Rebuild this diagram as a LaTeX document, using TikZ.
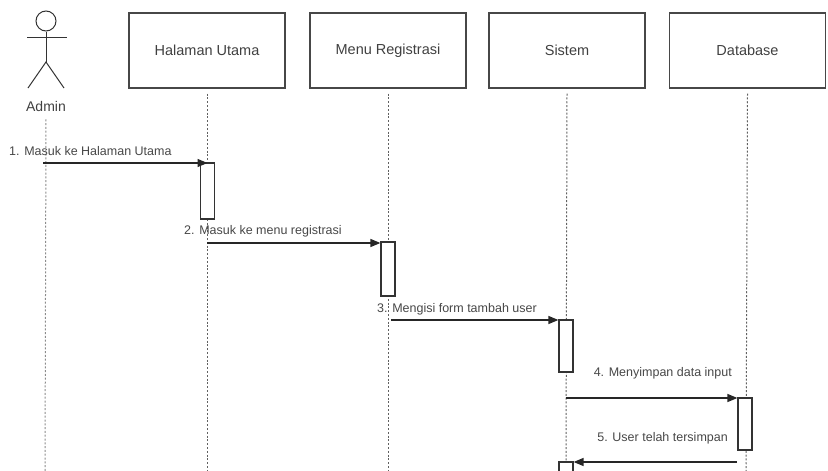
\documentclass[tikz,border=0pt]{standalone}
\usepackage{fontspec}
\setmainfont{Liberation Sans}
\usetikzlibrary{arrows.meta}
\begin{document}
\begin{tikzpicture}[x=1pt,y=-1pt,
 obj/.style={draw=black!72,line width=1.3pt,minimum width=156pt,minimum height=75pt,inner sep=0pt,font=\fontsize{14.5}{17}\selectfont,text=black!75},
 life/.style={draw=black!62,dash pattern=on 2pt off 1.8pt,line width=1pt},
 act/.style={draw=black!80,line width=1.2pt,fill=white,minimum width=14pt,inner sep=0pt},
 msg/.style={-{Triangle[length=10pt,width=8pt]},line width=1.3pt,draw=black!85},
 lbl/.style={font=\fontsize{12.5}{14}\selectfont,text=black!72,inner sep=0pt},
 stick/.style={draw=black!80,line width=1pt}]
\useasboundingbox (0,0) rectangle (828,471);
% actor
\node[circle,stick,minimum size=20pt,inner sep=0pt] (head) at (46,21) {};
\coordinate (hip) at (46,62);
\coordinate (armL) at (27,37);
\coordinate (armR) at (67,37);
\coordinate (legL) at (28,88);
\coordinate (legR) at (64,88);
\draw[stick] (head.south) -- (hip);
\draw[stick] (armL) -- (armR);
\draw[stick] (legL) -- (hip) -- (legR);
\node[font=\fontsize{14}{16}\selectfont,text=black!75,inner sep=0pt] (admin) at (46,106) {Admin};
% objects
\node[obj] (hu) at (207,50.5) {Halaman Utama};
\node[obj] (mr) at (388,50.5) {Menu Registrasi};
\node[obj] (si) at (567,50.5) {Sistem};
\node[obj] (db) at (747.5,50.5) {Database};
% lifeline ends
\coordinate (adE) at (45,471);
\coordinate (huE) at (207,471);
\coordinate (mrE) at (388,471);
\coordinate (siE) at (566,471);
\coordinate (dbE) at (746,471);
\draw[life,draw=black!45] ([yshift=-8pt]admin.south) -- (adE);
\draw[life] ([yshift=-5pt]hu.south) -- (huE);
\draw[life] ([yshift=-5pt]mr.south) -- (mrE);
\draw[life] ([yshift=-5pt]si.south) -- (siE);
\draw[life] ([yshift=-5pt]db.south) -- (dbE);
% activations
\node[act,minimum height=56pt] (a1) at (207.5,191) {};
\node[act,minimum height=54pt] (a2) at (388,269) {};
\node[act,minimum height=52pt] (a3) at (566,346) {};
\node[act,minimum height=52pt] (a4) at (745,424) {};
\node[act,minimum height=20pt] (a5) at (566,472) {};
% message start points
\coordinate (s1) at (43,163);
\coordinate (s2) at (207,243);
\coordinate (s3) at (391,320);
\coordinate (s4) at (566,398);
\coordinate (s5) at (737,462);
\draw[msg] (s1) -- (s1 -| a1.north);
\draw[msg] (s2) -- (s2 -| a2.west);
\draw[msg] (s3) -- (s3 -| a3.west);
\draw[msg] (s4) -- (s4 -| a4.west);
\draw[msg] (s5) -- (s5 -| a5.east);
% labels
\node[lbl,anchor=west] (l1) at (9,151) {1. Masuk ke Halaman Utama};
\node[lbl,anchor=west] (l2) at (184,231) {2. Masuk ke menu registrasi};
\node[lbl,anchor=west] (l3) at (377,309) {3. Mengisi form tambah user};
\node[lbl,anchor=east] (l4) at (732,373) {4. Menyimpan data input};
\node[lbl,anchor=east] (l5) at (728,438) {5. User telah tersimpan};
\end{tikzpicture}
\end{document}
